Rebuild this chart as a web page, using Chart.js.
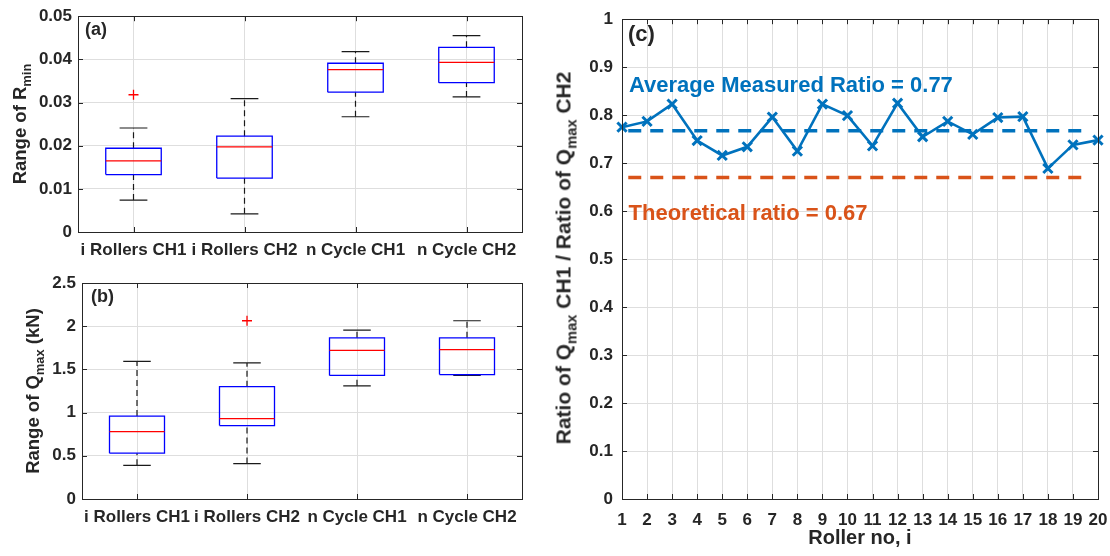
<!DOCTYPE html>
<html>
<head>
<meta charset="utf-8">
<script src="https://cdn.jsdelivr.net/npm/chart.js@4.4.1/dist/chart.umd.min.js"></script>
<style>
  html, body { margin: 0; padding: 0; background: #fff; }
  body { width: 1110px; height: 556px; position: relative; overflow: hidden;
         font-family: 'Liberation Sans', Arial, Helvetica, sans-serif; }
  canvas { position: absolute; }
  .ylab { position: absolute; white-space: nowrap; font-weight: bold; color: #262626;
          line-height: 1; transform: translate(-50%, -50%) rotate(-90deg); }
  .ylab .sub { font-size: 0.7em; position: relative; top: 0.4em; }
</style>
</head>
<body>
<canvas id="chartA" width="545" height="262" style="left:0;top:0"></canvas>
<canvas id="chartB" width="545" height="294" style="left:0;top:262px"></canvas>
<canvas id="chartC" width="585" height="556" style="left:545px;top:0"></canvas>

<div class="ylab" style="left:20px;top:124px;font-size:18.5px">Range of R<span class="sub">min</span></div>
<div class="ylab" style="left:33px;top:391px;font-size:18.5px">Range of Q<span class="sub">max</span> (kN)</div>
<div class="ylab" style="left:563px;top:258px;font-size:21px">Ratio of Q<span class="sub">max</span> CH1 / Ratio of Q<span class="sub">max</span> CH2</div>

<script>
// ---- box plot groups ----
const boxCategories = ['i Rollers CH1', 'i Rollers CH2', 'n Cycle CH1', 'n Cycle CH2'];
const boxPositions = [1, 2, 3, 4];

// (a) Range of R_min
const rminLowerWhisker = [0.0074, 0.0042, 0.0267, 0.0313];
const rminQ1           = [0.0133, 0.0125, 0.0324, 0.0346];
const rminMedian       = [0.0165, 0.0197, 0.0376, 0.0393];
const rminQ3           = [0.0194, 0.0222, 0.0391, 0.0428];
const rminUpperWhisker = [0.0241, 0.0309, 0.0418, 0.0455];
const rminOutlierGroup = [1];
const rminOutlierValue = [0.0318];
const rminTicks      = [0, 0.01, 0.02, 0.03, 0.04, 0.05];
const rminTickLabels = ['0', '0.01', '0.02', '0.03', '0.04', '0.05'];

// (b) Range of Q_max (kN)
const qmaxLowerWhisker = [0.39, 0.41, 1.31, 1.43];
const qmaxQ1           = [0.53, 0.85, 1.43, 1.44];
const qmaxMedian       = [0.78, 0.93, 1.72, 1.73];
const qmaxQ3           = [0.96, 1.30, 1.865, 1.865];
const qmaxUpperWhisker = [1.594, 1.575, 1.954, 2.063];
const qmaxOutlierGroup = [2];
const qmaxOutlierValue = [2.063];
const qmaxTicks      = [0, 0.5, 1, 1.5, 2, 2.5];
const qmaxTickLabels = ['0', '0.5', '1', '1.5', '2', '2.5'];

// (c) ratio of Q_max CH1 / CH2 per roller
const rollerNo   = [1, 2, 3, 4, 5, 6, 7, 8, 9, 10, 11, 12, 13, 14, 15, 16, 17, 18, 19, 20];
const qmaxRatio  = [0.775, 0.787, 0.823, 0.747, 0.716, 0.734, 0.796, 0.725, 0.823, 0.799,
                    0.736, 0.825, 0.755, 0.787, 0.760, 0.795, 0.797, 0.689, 0.738, 0.748];
const theoreticalRatio = 0.67;
const refLineSpan = [1.25, 19.5];
const ratioTicks      = [0, 0.1, 0.2, 0.3, 0.4, 0.5, 0.6, 0.7, 0.8, 0.9, 1];
const ratioTickLabels = ['0', '0.1', '0.2', '0.3', '0.4', '0.5', '0.6', '0.7', '0.8', '0.9', '1'];
const rollerTickLabels = rollerNo.map(String);

const averageRatio = qmaxRatio.reduce((s, v) => s + v, 0) / qmaxRatio.length;

// ---- styling ----
const FONT = "'Liberation Sans', Arial, Helvetica, sans-serif";
const INK = '#262626';
const GRID = '#dedede';
const BLUE = '#0072BD';
const ORANGE = '#D95319';
const BOX_HALF = 0.25;
const CAP_HALF = 0.125;
const TICK_SIZE = 17;

// axes box with inward tick marks on all four sides
const framePlugin = {
  id: 'frame',
  afterDatasetsDraw(chart) {
    const { ctx, chartArea: a, scales } = chart;
    const L = 5;
    ctx.save();
    ctx.strokeStyle = INK;
    ctx.lineWidth = 1;
    ctx.setLineDash([]);
    ctx.beginPath();
    scales.x.ticks.forEach(t => {
      const px = Math.round(scales.x.getPixelForValue(t.value)) + 0.5;
      if (px <= a.left + 1 || px >= a.right - 1) return;
      ctx.moveTo(px, a.bottom); ctx.lineTo(px, a.bottom - L);
      ctx.moveTo(px, a.top); ctx.lineTo(px, a.top + L);
    });
    scales.y.ticks.forEach(t => {
      const py = Math.round(scales.y.getPixelForValue(t.value)) + 0.5;
      if (py <= a.top + 1 || py >= a.bottom - 1) return;
      ctx.moveTo(a.left, py); ctx.lineTo(a.left + L, py);
      ctx.moveTo(a.right, py); ctx.lineTo(a.right - L, py);
    });
    ctx.stroke();
    ctx.strokeRect(Math.round(a.left) + 0.5, Math.round(a.top) + 0.5,
                   Math.round(a.right - a.left), Math.round(a.bottom - a.top));
    ctx.restore();
  }
};

// text annotations: offsets from the plot corner (dx, dy) or data coordinates (x, y)
const panelTextPlugin = {
  id: 'panelText',
  afterDraw(chart, args, opts) {
    const { ctx, chartArea: a, scales } = chart;
    ctx.save();
    (opts.items || []).forEach(it => {
      const px = it.x !== undefined ? scales.x.getPixelForValue(it.x) : a.left + it.dx;
      const py = it.y !== undefined ? scales.y.getPixelForValue(it.y) : a.top + it.dy;
      ctx.font = `bold ${it.size}px ${FONT}`;
      ctx.fillStyle = it.color || INK;
      ctx.textAlign = 'left';
      ctx.textBaseline = 'middle';
      ctx.fillText(it.text, px, py);
    });
    ctx.restore();
  }
};

function fixedTicks(values) {
  return scale => { scale.ticks = values.map(v => ({ value: v })); };
}

function tickFont(size) {
  return { family: FONT, weight: 'bold', size: size };
}

function boxChart(id, lo, q1, med, q3, hi, outGroup, outVal, yTicks, yLabels, g, panelLabel) {
  const box = [], medians = [], whiskers = [], caps = [];
  boxPositions.forEach((c, i) => {
    box.push({ x: c - BOX_HALF, y: q1[i] }, { x: c + BOX_HALF, y: q1[i] },
             { x: c + BOX_HALF, y: q3[i] }, { x: c - BOX_HALF, y: q3[i] },
             { x: c - BOX_HALF, y: q1[i] }, { x: c, y: null });
    medians.push({ x: c - BOX_HALF, y: med[i] }, { x: c + BOX_HALF, y: med[i] }, { x: c, y: null });
    whiskers.push({ x: c, y: q3[i] }, { x: c, y: hi[i] }, { x: c, y: null },
                  { x: c, y: lo[i] }, { x: c, y: q1[i] }, { x: c, y: null });
    caps.push({ x: c - CAP_HALF, y: hi[i] }, { x: c + CAP_HALF, y: hi[i] }, { x: c, y: null },
              { x: c - CAP_HALF, y: lo[i] }, { x: c + CAP_HALF, y: lo[i] }, { x: c, y: null });
  });
  const outliers = outGroup.map((grp, i) => ({ x: boxPositions[grp - 1], y: outVal[i] }));

  return new Chart(document.getElementById(id), {
    type: 'line',
    data: {
      datasets: [
        { data: outliers, type: 'scatter', pointStyle: 'cross', pointRadius: 5,
          borderColor: '#ff0000', pointBorderColor: '#ff0000', pointBorderWidth: 1.3 },
        { data: medians, borderColor: '#ff0000', borderWidth: 1.3, pointRadius: 0 },
        { data: box, borderColor: '#0000ff', borderWidth: 1.3, pointRadius: 0 },
        { data: caps, borderColor: '#1a1a1a', borderWidth: 1.2, pointRadius: 0 },
        { data: whiskers, borderColor: '#1a1a1a', borderWidth: 1.2, borderDash: [6, 4], pointRadius: 0 }
      ]
    },
    options: {
      responsive: false,
      animation: false,
      events: [],
      layout: { padding: { left: 0, top: g.padTop, right: g.padRight, bottom: 0 } },
      elements: { line: { tension: 0, fill: false } },
      plugins: {
        legend: { display: false },
        tooltip: { enabled: false },
        panelText: { items: [{ text: panelLabel, dx: g.labelDx, dy: g.labelDy, size: 18 }] }
      },
      scales: {
        x: {
          type: 'linear', min: 0.5, max: 4.5,
          afterBuildTicks: fixedTicks(boxPositions),
          afterFit: s => { s.height = g.xHeight; },
          grid: { color: GRID, drawTicks: false },
          border: { display: false },
          ticks: { font: tickFont(TICK_SIZE), color: INK, padding: g.xPad, autoSkip: false,
                   maxRotation: 0, minRotation: 0, callback: (v, i) => boxCategories[i] }
        },
        y: {
          min: yTicks[0], max: yTicks[yTicks.length - 1],
          afterBuildTicks: fixedTicks(yTicks),
          afterFit: s => { s.width = g.yWidth; },
          grid: { color: GRID, drawTicks: false },
          border: { display: false },
          ticks: { font: tickFont(TICK_SIZE), color: INK, padding: g.yPad, callback: (v, i) => yLabels[i] }
        }
      }
    },
    plugins: [framePlugin, panelTextPlugin]
  });
}

boxChart('chartA', rminLowerWhisker, rminQ1, rminMedian, rminQ3, rminUpperWhisker,
         rminOutlierGroup, rminOutlierValue, rminTicks, rminTickLabels,
         { padTop: 16, padRight: 23, yWidth: 78, xHeight: 30, xPad: 8, yPad: 6, labelDx: 7, labelDy: 14 }, '(a)');

boxChart('chartB', qmaxLowerWhisker, qmaxQ1, qmaxMedian, qmaxQ3, qmaxUpperWhisker,
         qmaxOutlierGroup, qmaxOutlierValue, qmaxTicks, qmaxTickLabels,
         { padTop: 21, padRight: 23, yWidth: 82, xHeight: 57, xPad: 8, yPad: 6, labelDx: 9, labelDy: 14 }, '(b)');

new Chart(document.getElementById('chartC'), {
  type: 'line',
  data: {
    datasets: [
      { data: rollerNo.map((n, i) => ({ x: n, y: qmaxRatio[i] })),
        borderColor: BLUE, borderWidth: 2.6, pointStyle: 'crossRot', pointRadius: 6.5,
        pointBorderColor: BLUE, pointBorderWidth: 3, clip: false },
      { data: refLineSpan.map(x => ({ x: x, y: averageRatio })),
        borderColor: BLUE, borderWidth: 3.5, borderDash: [13, 9], pointRadius: 0 },
      { data: refLineSpan.map(x => ({ x: x, y: theoreticalRatio })),
        borderColor: ORANGE, borderWidth: 3.5, borderDash: [13, 9], pointRadius: 0 }
    ]
  },
  options: {
    responsive: false,
    animation: false,
    events: [],
    layout: { padding: { left: 0, top: 16, right: 32, bottom: 0 } },
    elements: { line: { tension: 0, fill: false } },
    plugins: {
      legend: { display: false },
      tooltip: { enabled: false },
      panelText: {
        items: [
          { text: '(c)', dx: 6, dy: 16, size: 22 },
          { text: 'Average Measured Ratio = ' + averageRatio.toFixed(2), x: 1.28, y: 0.861, size: 22, color: BLUE },
          { text: 'Theoretical ratio = ' + theoreticalRatio.toFixed(2), x: 1.26, y: 0.594, size: 22, color: ORANGE }
        ]
      }
    },
    scales: {
      x: {
        type: 'linear', min: rollerNo[0], max: rollerNo[rollerNo.length - 1],
        afterBuildTicks: fixedTicks(rollerNo),
        afterFit: s => { s.height = 57; },
        grid: { color: GRID, drawTicks: false },
        border: { display: false },
        ticks: { font: tickFont(TICK_SIZE), color: INK, padding: 11, autoSkip: false,
                 maxRotation: 0, minRotation: 0, callback: (v, i) => rollerTickLabels[i] },
        title: { display: true, text: 'Roller no, i', color: INK,
                 font: { family: FONT, weight: 'bold', size: 20 }, padding: { top: 0, bottom: 6 } }
      },
      y: {
        min: 0, max: 1,
        afterBuildTicks: fixedTicks(ratioTicks),
        afterFit: s => { s.width = 77; },
        grid: { color: GRID, drawTicks: false },
        border: { display: false },
        ticks: { font: tickFont(TICK_SIZE), color: INK, padding: 9, callback: (v, i) => ratioTickLabels[i] }
      }
    }
  },
  plugins: [framePlugin, panelTextPlugin]
});
</script>
</body>
</html>
